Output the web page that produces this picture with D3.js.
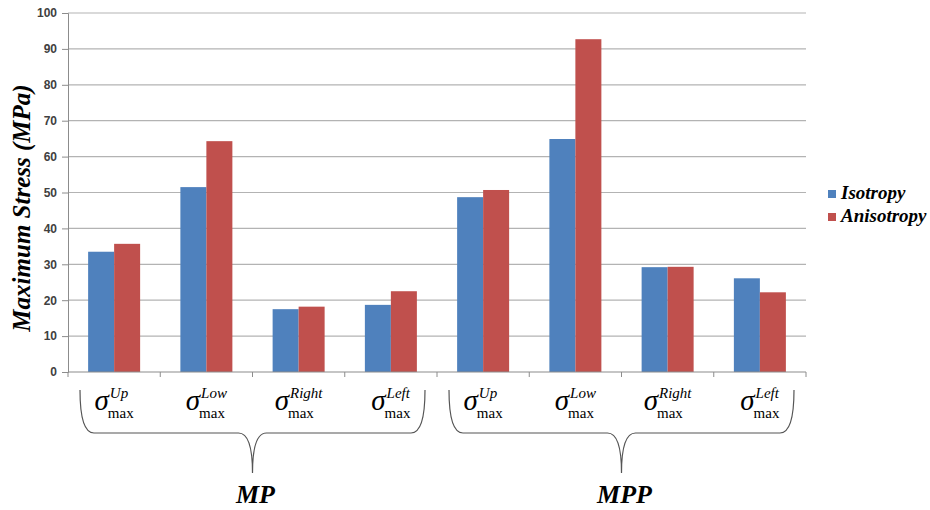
<!DOCTYPE html>
<html><head><meta charset="utf-8">
<script src="https://cdn.jsdelivr.net/npm/d3@7"></script>
<style>body{margin:0;background:#fff}svg{display:block}</style>
</head><body>
<svg id="c" width="930" height="510"></svg>
<script>
const groups = ["MP", "MPP"];
const components = ["Up", "Low", "Right", "Left"];
const seriesNames = ["Isotropy", "Anisotropy"];
const isotropy   = [33.5, 51.5, 17.5, 18.7, 48.7, 64.9, 29.2, 26.1];
const anisotropy = [35.7, 64.3, 18.2, 22.5, 50.7, 92.7, 29.3, 22.2];
const yTicks = [0, 10, 20, 30, 40, 50, 60, 70, 80, 90, 100];
const colors = ["#4F81BD", "#C0504D"];

(function () {
const svg = d3.select("#c");
const pLeft = 68, pRight = 806, pTop = 13, pBottom = 372;

const cats = [];
groups.forEach(g => components.forEach(c => cats.push(g + "-" + c)));
const x = d3.scaleBand().domain(cats).range([pLeft, pRight]).paddingInner(0).paddingOuter(0);
const x1 = d3.scaleBand().domain(seriesNames).range([0, x.bandwidth()]).paddingInner(0).paddingOuter(0.774);
const y = d3.scaleLinear().domain([0, 100]).range([pBottom, pTop]);

// gridlines
svg.append("g").selectAll("line").data(yTicks.filter(d => d > 0)).join("line")
  .attr("x1", pLeft).attr("x2", pRight).attr("y1", d => y(d)).attr("y2", d => y(d))
  .attr("stroke", "#b3b3b3").attr("stroke-width", 1.2);

// y axis
const yAxis = svg.append("g").attr("transform", `translate(${pLeft},0)`)
  .call(d3.axisLeft(y).tickValues(yTicks).tickSize(6).tickPadding(5));
yAxis.select(".domain").attr("stroke", "#8c8c8c");
yAxis.selectAll(".tick line").attr("stroke", "#8c8c8c");
yAxis.selectAll("text").attr("font-family", "Liberation Sans, Arial, sans-serif")
  .attr("font-weight", "bold").attr("font-size", 12).attr("fill", "#404040");

// bars
const data = cats.map((c, i) => ({cat: c, vals: [isotropy[i], anisotropy[i]]}));
const gBars = svg.append("g");
data.forEach(d => {
  d.vals.forEach((v, j) => {
    gBars.append("rect")
      .attr("x", x(d.cat) + x1(seriesNames[j]))
      .attr("width", x1.bandwidth())
      .attr("y", y(v))
      .attr("height", y(0) - y(v))
      .attr("fill", colors[j]);
  });
});

// x axis
const xAxisG = svg.append("g");
xAxisG.append("line").attr("x1", pLeft).attr("x2", pRight).attr("y1", pBottom).attr("y2", pBottom)
  .attr("stroke", "#8c8c8c").attr("stroke-width", 1.2);
const bounds = cats.map(c => x(c)).concat([pRight]);
xAxisG.selectAll(".t").data(bounds).join("line").attr("class", "t")
  .attr("x1", d => d).attr("x2", d => d).attr("y1", pBottom).attr("y2", pBottom + 5)
  .attr("stroke", "#8c8c8c");

// category labels: sigma with super/subscript
const serif = "Liberation Serif, Times New Roman, serif";
cats.forEach((c, i) => {
  const comp = components[i % components.length];
  const cx = x(c) + x.bandwidth() / 2;
  const g = svg.append("g");
  const s = g.append("text").attr("x", 0).attr("y", 410).attr("font-family", serif)
    .attr("font-style", "italic").attr("font-size", 29).attr("fill", "#000").text("σ");
  const sw = s.node().getComputedTextLength();
  const sup = g.append("text").attr("x", sw + 1).attr("y", 398).attr("font-family", serif)
    .attr("font-style", "italic").attr("font-size", 15).text(comp);
  const sub = g.append("text").attr("x", sw - 1).attr("y", 418).attr("font-family", serif)
    .attr("font-size", 15).text("max");
  const w = sw + Math.max(sup.node().getComputedTextLength() + 1, sub.node().getComputedTextLength() - 1);
  g.attr("transform", `translate(${cx - w / 2},0)`);
});

// braces and group labels
groups.forEach((gname) => {
  const first = gname + "-" + components[0];
  const last = gname + "-" + components[components.length - 1];
  const x0 = x(first) + 12;
  const x2 = x(last) + x.bandwidth() - 12;
  const cxm = (x(first) + x(last) + x.bandwidth()) / 2;
  const yt = 390, yh = 433, yb = 473;
  const p = d3.path();
  p.moveTo(x0, yt); p.quadraticCurveTo(x0, yh, x0 + 14, yh);
  p.lineTo(cxm - 14, yh); p.quadraticCurveTo(cxm, yh, cxm, yb);
  p.moveTo(x2, yt); p.quadraticCurveTo(x2, yh, x2 - 14, yh);
  p.lineTo(cxm + 14, yh); p.quadraticCurveTo(cxm, yh, cxm, yb);
  svg.append("path").attr("d", p.toString()).attr("fill", "none")
    .attr("stroke", "#555").attr("stroke-width", 1.2);
  svg.append("text").attr("x", cxm + 3).attr("y", 503).attr("text-anchor", "middle")
    .attr("font-family", serif).attr("font-style", "italic").attr("font-weight", "bold")
    .attr("font-size", 26).attr("fill", "#000").text(gname);
});

// y title
svg.append("text").attr("transform", "translate(30,208) rotate(-90)")
  .attr("text-anchor", "middle").attr("font-family", serif).attr("font-style", "italic")
  .attr("font-weight", "bold").attr("font-size", 25).attr("fill", "#000")
  .text("Maximum Stress (MPa)");

// legend
const lg = svg.append("g");
seriesNames.forEach((n, i) => {
  lg.append("rect").attr("x", 828).attr("y", 190 + i * 23).attr("width", 8).attr("height", 8)
    .attr("fill", colors[i]);
  lg.append("text").attr("x", 841).attr("y", 199 + i * 23).attr("font-family", serif)
    .attr("font-style", "italic").attr("font-weight", "bold").attr("font-size", 19)
    .attr("fill", "#000").text(n);
});
})();
</script>
</body></html>
